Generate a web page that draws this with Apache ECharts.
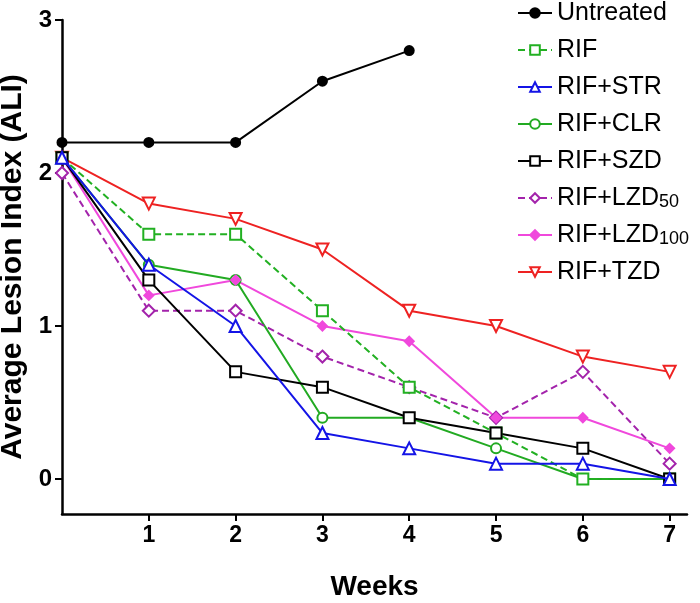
<!DOCTYPE html>
<html>
<head>
<meta charset="utf-8">
<script src="https://cdn.jsdelivr.net/npm/echarts@6/dist/echarts.min.js"></script>
<style>html,body{margin:0;padding:0;background:#fff}#c{width:700px;height:603px}</style>
</head>
<body>
<div id="c"></div>
<script>
const weeks = [0, 1, 2, 3, 4, 5, 6, 7];
const xTicks = [1, 2, 3, 4, 5, 6, 7];
const yTicks = [0, 1, 2, 3];
const untreated = [2.2, 2.2, 2.2, 2.6, 2.8];
const rif      = [2.1, 1.6, 1.6, 1.1, 0.6, 0.3, 0.0, 0.0];
const rifStr   = [2.1, 1.4, 1.0, 0.3, 0.2, 0.1, 0.1, 0.0];
const rifClr   = [2.1, 1.4, 1.3, 0.4, 0.4, 0.2, 0.0, 0.0];
const rifSzd   = [2.1, 1.3, 0.7, 0.6, 0.4, 0.3, 0.2, 0.0];
const rifLzd50 = [2.0, 1.1, 1.1, 0.8, 0.6, 0.4, 0.7, 0.1];
const rifLzd100= [2.1, 1.2, 1.3, 1.0, 0.9, 0.4, 0.4, 0.2];
const rifTzd   = [2.1, 1.8, 1.7, 1.5, 1.1, 1.0, 0.8, 0.7];

function pairs(vals){ return vals.map((v,i)=>[weeks[i], v]); }

const FONT = '"Liberation Sans", Arial, sans-serif';

function mk(name, vals, color, symbol, opts){
  opts = opts || {};
  return {
    name: name, type: 'line', data: pairs(vals),
    symbol: symbol, symbolSize: opts.size || 11,
    symbolRotate: opts.rotate || 0,
    lineStyle: {color: color, width: 2, type: opts.dash ? [7,4] : 'solid'},
    itemStyle: {color: opts.fill || '#fff', borderColor: color, borderWidth: 2},
    z: opts.z || 2,
    emphasis: {disabled: true}
  };
}

const series = [
  mk('Untreated', untreated, '#000000', 'circle', {fill:'#000000', size:9, z:9}),
  mk('RIF', rif, '#22b022', 'rect', {dash:true, size:11, z:4}),
  mk('RIF+STR', rifStr, '#1414e6', 'triangle', {size:12, z:5}),
  mk('RIF+CLR', rifClr, '#22aa22', 'circle', {size:10, z:3}),
  mk('RIF+SZD', rifSzd, '#000000', 'rect', {size:11, z:4}),
  mk('RIF+LZD50', rifLzd50, '#a323ab', 'diamond', {dash:true, size:12, z:3}),
  mk('RIF+LZD100', rifLzd100, '#f048dc', 'diamond', {fill:'#f048dc', size:9, z:3}),
  mk('RIF+TZD', rifTzd, '#ee2222', 'triangle', {rotate:180, size:12, z:3})
];

const chart = echarts.init(document.getElementById('c'), null, {renderer:'canvas'});
chart.setOption({
  animation: false,
  backgroundColor: '#fff',
  grid: {left: 62, top: 20, right: 13, bottom: 89, containLabel: false, outerBoundsMode: 'none'},
  legend: {
    orient: 'vertical', left: 512, top: -5,
    itemWidth: 34, itemHeight: 12, itemGap: 11,
    textStyle: {fontFamily: FONT, fontSize: 25, color: '#000', lineHeight: 26,
      rich: {sub: {fontFamily: FONT, fontSize: 18, color:'#000', lineHeight: 8, verticalAlign: 'bottom'}}},
    formatter: function(n){
      const m = n.match(/^(RIF\+LZD)(\d+)$/);
      return m ? m[1] + '{sub|' + m[2] + '}' : n;
    },
    data: series.map(s=>s.name)
  },
  xAxis: {
    type: 'value', min: 0, max: 7.2,
    name: 'Weeks', nameLocation: 'middle', nameGap: 59,
    nameTextStyle: {fontFamily: FONT, fontSize: 28, fontWeight: 'bold', color: '#000'},
    axisLine: {show: true, onZero: false, lineStyle: {color: '#000', width: 2.5}},
    axisTick: {show: true, length: 7, lineStyle: {color:'#000', width: 2}, customValues: xTicks},
    axisLabel: {fontFamily: FONT, fontSize: 23, fontWeight: 'bold', color: '#000', margin: 10, customValues: xTicks},
    splitLine: {show: false}
  },
  yAxis: {
    type: 'value', min: -0.229, max: 3,
    name: 'Average Lesion Index (ALI)', nameLocation: 'middle', nameGap: 31,
    nameTextStyle: {fontFamily: FONT, fontSize: 30, fontWeight: 'bold', color: '#000'},
    axisLine: {show: true, onZero: false, lineStyle: {color: '#000', width: 2.5}},
    axisTick: {show: true, length: 7, lineStyle: {color:'#000', width: 2}, customValues: yTicks},
    axisLabel: {fontFamily: FONT, fontSize: 24, fontWeight: 'bold', color: '#000', margin: 10, customValues: yTicks},
    splitLine: {show: false}
  },
  series: series
});
</script>
</body>
</html>
